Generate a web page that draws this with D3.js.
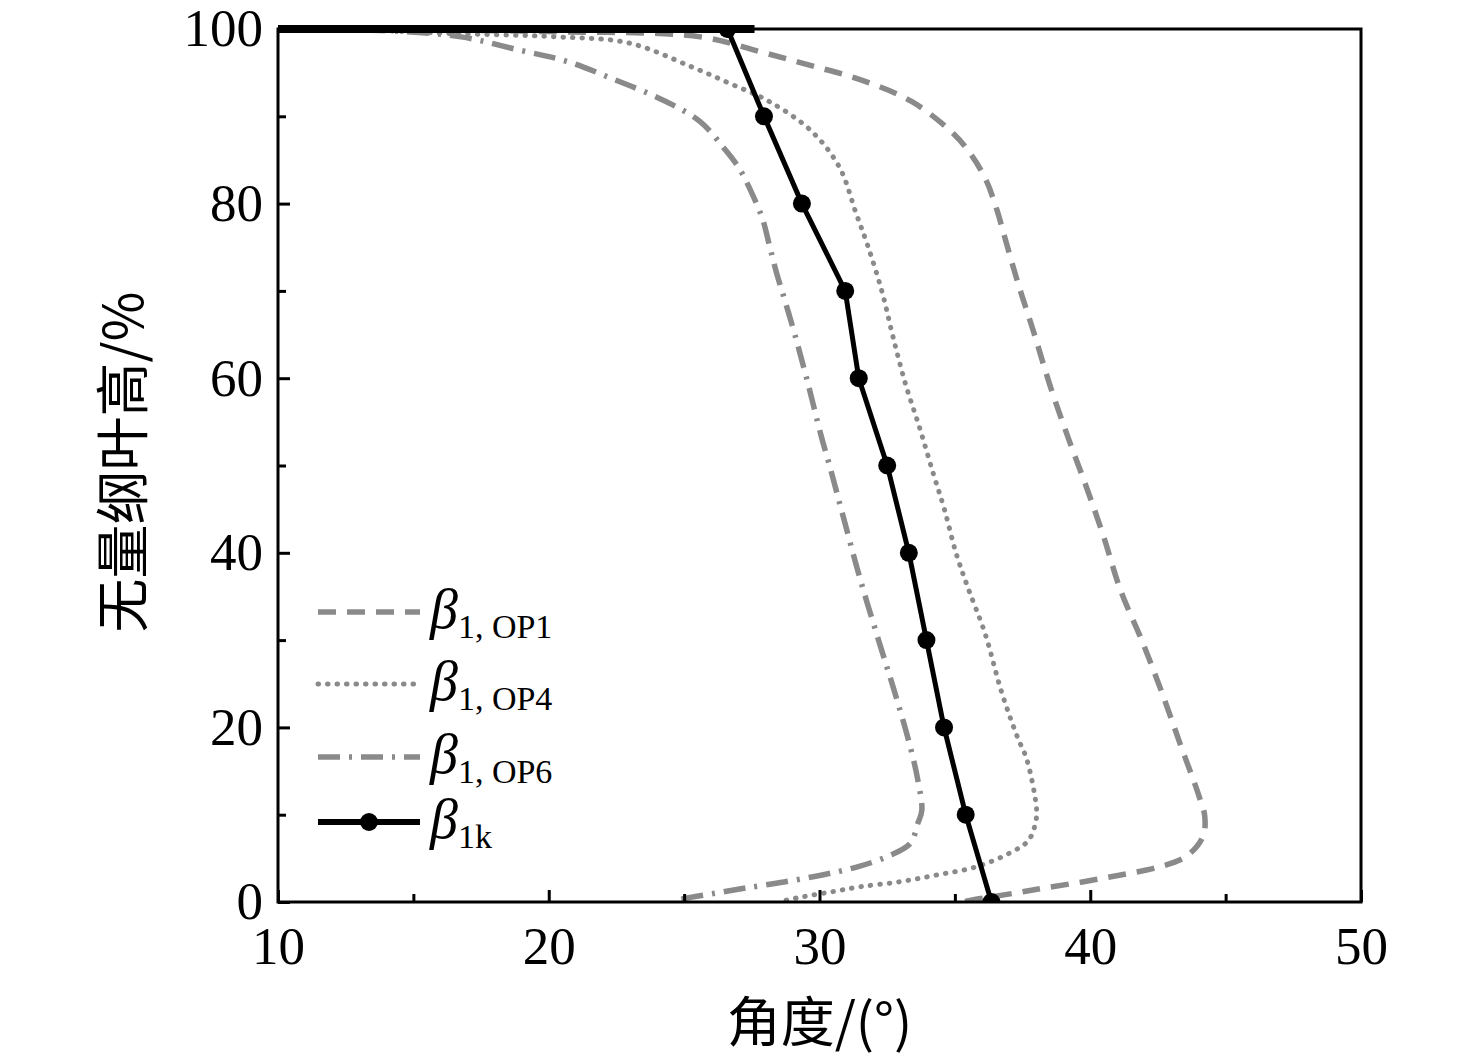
<!DOCTYPE html>
<html>
<head>
<meta charset="utf-8">
<script src="https://cdn.jsdelivr.net/npm/d3@7"></script>
<style>
  body { margin: 0; background: #fff; }
  text { font-family: "Liberation Serif", "Times New Roman", serif; }
</style>
</head>
<body>
<div id="chart"></div>
<script>
// data: [angle (deg), height (%)]
let op1 = [[10,100],[15,99.9],[20,99.7],[25.6,99.1],[27.8,97.4],[29.7,95.8],[31.5,94.2],[33.4,91.7],
  [34.95,88.0],[35.6,85.6],[36.15,82.7],[36.55,79.3],[36.8,76.6],[37.33,70.9],[37.92,65.2],
  [38.51,59.2],[39.17,53.3],[39.85,47.6],[40.49,41.9],[41.12,35.7],[41.9,30.0],[42.61,24.3],
  [43.31,18.2],[44.02,12.1],[44.23,9.8],[44.16,7.5],[43.53,5.2],[42.4,3.9],[41.12,3.1],
  [39.71,2.3],[38.3,1.6],[37.17,1.0],[35.61,0.2],[35.3,0]];
let op4 = [[10,100],[13,99.9],[16.24,99.5],[20.3,99.1],[22.96,98.4],[25.25,95.7],[26.66,93.8],
  [28.08,91.8],[29.67,88.4],[30.73,84.2],[31.35,78.9],[31.79,75.1],[32.31,69.9],[32.71,64.8],
  [33.17,59.4],[33.7,54.3],[34.2,49.1],[34.62,44.9],[35.05,39.9],[35.47,36.1],[36.11,30.8],
  [36.74,23.9],[37.31,18.9],[37.66,16.3],[38.01,10.9],[38.01,9.6],[37.73,7.1],[37.02,5.6],
  [35.75,4.0],[34.34,3.1],[32.93,2.3],[31.51,1.75],[30.52,1.2],[29.39,0.6],[28.47,0]];
let op6 = [[10,100],[14.12,99.8],[16.76,99.1],[18.89,97.6],[20.66,96.3],[22.43,94.2],[24.19,91.9],
  [25.59,89.4],[26.51,86.2],[27.04,84.0],[27.5,81.2],[27.9,78.2],[28.16,75.1],[28.42,72.0],
  [28.75,68.6],[29.08,65.1],[29.54,59.8],[30.07,53.3],[30.38,49.9],[30.88,44.1],[31.51,36.9],
  [32.22,29.6],[32.79,23.9],[33.35,17.8],[33.63,14.0],[33.78,10.5],[33.63,9.0],[33.35,6.7],
  [32.5,5.2],[31.37,4.0],[30.1,3.1],[28.69,2.3],[27.27,1.6],[26.14,1.0],[25.01,0.4],[24.59,0]];
let b1k = [[26.6,100],[27.95,90],[29.35,80],[30.95,70],[31.45,60],[32.5,50],[33.3,40],
  [33.95,30],[34.6,20],[35.4,10],[36.35,0]];
let topEdge = [[10,100],[27.6,100]];

let xTicks = [10, 20, 30, 40, 50];
let xMinor = [15, 25, 35, 45];
let yTicks = [0, 20, 40, 60, 80, 100];
let yMinor = [10, 30, 50, 70, 90];

let seriesNames = ["1, OP1", "1, OP4", "1, OP6", "1k"];

let margin = {top: 29, right: 115, bottom: 158, left: 278},
    width = 1476 - margin.left - margin.right,
    height = 1060 - margin.top - margin.bottom;

let gray = "#8a8a8a";

let svg = d3.select("#chart")
    .append("svg")
    .attr("width", 1476)
    .attr("height", 1060);

let g = svg.append("g")
    .attr("transform", "translate(" + margin.left + "," + margin.top + ")");

let x = d3.scaleLinear().domain([10, 50]).range([0, width]);
let y = d3.scaleLinear().domain([0, 100]).range([height, 0]);

let line = d3.line()
    .x(d => x(d[0]))
    .y(d => y(d[1]))
    .curve(d3.curveCatmullRom.alpha(0.5));

let straight = d3.line()
    .x(d => x(d[0]))
    .y(d => y(d[1]));

// clip the curves to the plot box
g.append("clipPath").attr("id", "clip")
  .append("rect").attr("x", 0).attr("y", -4).attr("width", width).attr("height", height + 4);

let plot = g.append("g").attr("clip-path", "url(#clip)");

plot.append("path").datum(op6)
    .attr("d", line).attr("fill", "none").attr("stroke", gray)
    .attr("stroke-width", 5.5).attr("stroke-dasharray", "22,9,3,9");
plot.append("path").datum(op4)
    .attr("d", line).attr("fill", "none").attr("stroke", gray)
    .attr("stroke-width", 5).attr("stroke-dasharray", "0.5,9").attr("stroke-linecap", "round");
plot.append("path").datum(op1)
    .attr("d", line).attr("fill", "none").attr("stroke", gray)
    .attr("stroke-width", 5.5).attr("stroke-dasharray", "18,11");

// axes
let xAxis = g.append("g").attr("transform", "translate(0," + height + ")")
    .call(d3.axisBottom(x).tickValues(xTicks).tickSize(-12).tickPadding(30));
g.append("g").attr("transform", "translate(0," + height + ")")
    .call(d3.axisBottom(x).tickValues(xMinor).tickSize(-8).tickFormat(""));
let yAxis = g.append("g")
    .call(d3.axisLeft(y).tickValues(yTicks).tickSize(-12).tickPadding(15));
g.append("g")
    .call(d3.axisLeft(y).tickValues(yMinor).tickSize(-8).tickFormat(""));

g.selectAll(".domain").remove();
g.selectAll(".tick line").attr("stroke", "#000").attr("stroke-width", 3);
g.selectAll(".tick text").attr("fill", "#000").style("font-size", "53px")
    .style("font-family", "'Liberation Serif', serif");
xAxis.selectAll(".tick text").attr("dy", "0.6em");

// frame
g.append("rect").attr("x", 0).attr("y", 0).attr("width", width).attr("height", height)
    .attr("fill", "none").attr("stroke", "#000").attr("stroke-width", 3);

// black series
plot.append("path").datum(topEdge)
    .attr("d", straight).attr("fill", "none").attr("stroke", "#000").attr("stroke-width", 8);
plot.append("path").datum(b1k)
    .attr("d", straight).attr("fill", "none").attr("stroke", "#000").attr("stroke-width", 5);
plot.selectAll(".dot").data(b1k).enter().append("circle")
    .attr("cx", d => x(d[0])).attr("cy", d => y(d[1])).attr("r", 9).attr("fill", "#000");

// axis titles
svg.append("text")
    .attr("x", margin.left + width / 2).attr("y", 1042)
    .attr("text-anchor", "middle")
    .style("font-size", "54px")
    .style("font-family", "'Noto Sans CJK SC', 'Liberation Serif', serif")
    .text("角度/(°)");
svg.append("text")
    .attr("transform", "translate(143,462) rotate(-90)")
    .attr("text-anchor", "middle")
    .style("font-size", "54px")
    .style("font-family", "'Noto Sans CJK SC', 'Liberation Serif', serif")
    .text("无量纲叶高/%");

// legend
let legY = [612, 684, 757, 822];
let legStyles = [
  {dash: "18,11", w: 5.5, color: gray, cap: "butt"},
  {dash: "0.5,9", w: 5, color: gray, cap: "round"},
  {dash: "22,9,3,9", w: 5.5, color: gray, cap: "butt"},
  {dash: null, w: 6, color: "#000", cap: "butt"}
];
let leg = svg.append("g");
seriesNames.forEach((name, i) => {
  let st = legStyles[i];
  leg.append("line").attr("x1", 318).attr("x2", 420).attr("y1", legY[i]).attr("y2", legY[i])
     .attr("stroke", st.color).attr("stroke-width", st.w)
     .attr("stroke-dasharray", st.dash).attr("stroke-linecap", st.cap);
  if (i === 3) {
    leg.append("circle").attr("cx", 369).attr("cy", legY[i]).attr("r", 9).attr("fill", "#000");
  }
  let t = leg.append("text").attr("x", 430).attr("y", legY[i] + 16).style("font-size", "56px");
  t.append("tspan").style("font-style", "italic").text("β");
  t.append("tspan").attr("dy", 10).style("font-size", "34px").text(name);
});
</script>
</body>
</html>
